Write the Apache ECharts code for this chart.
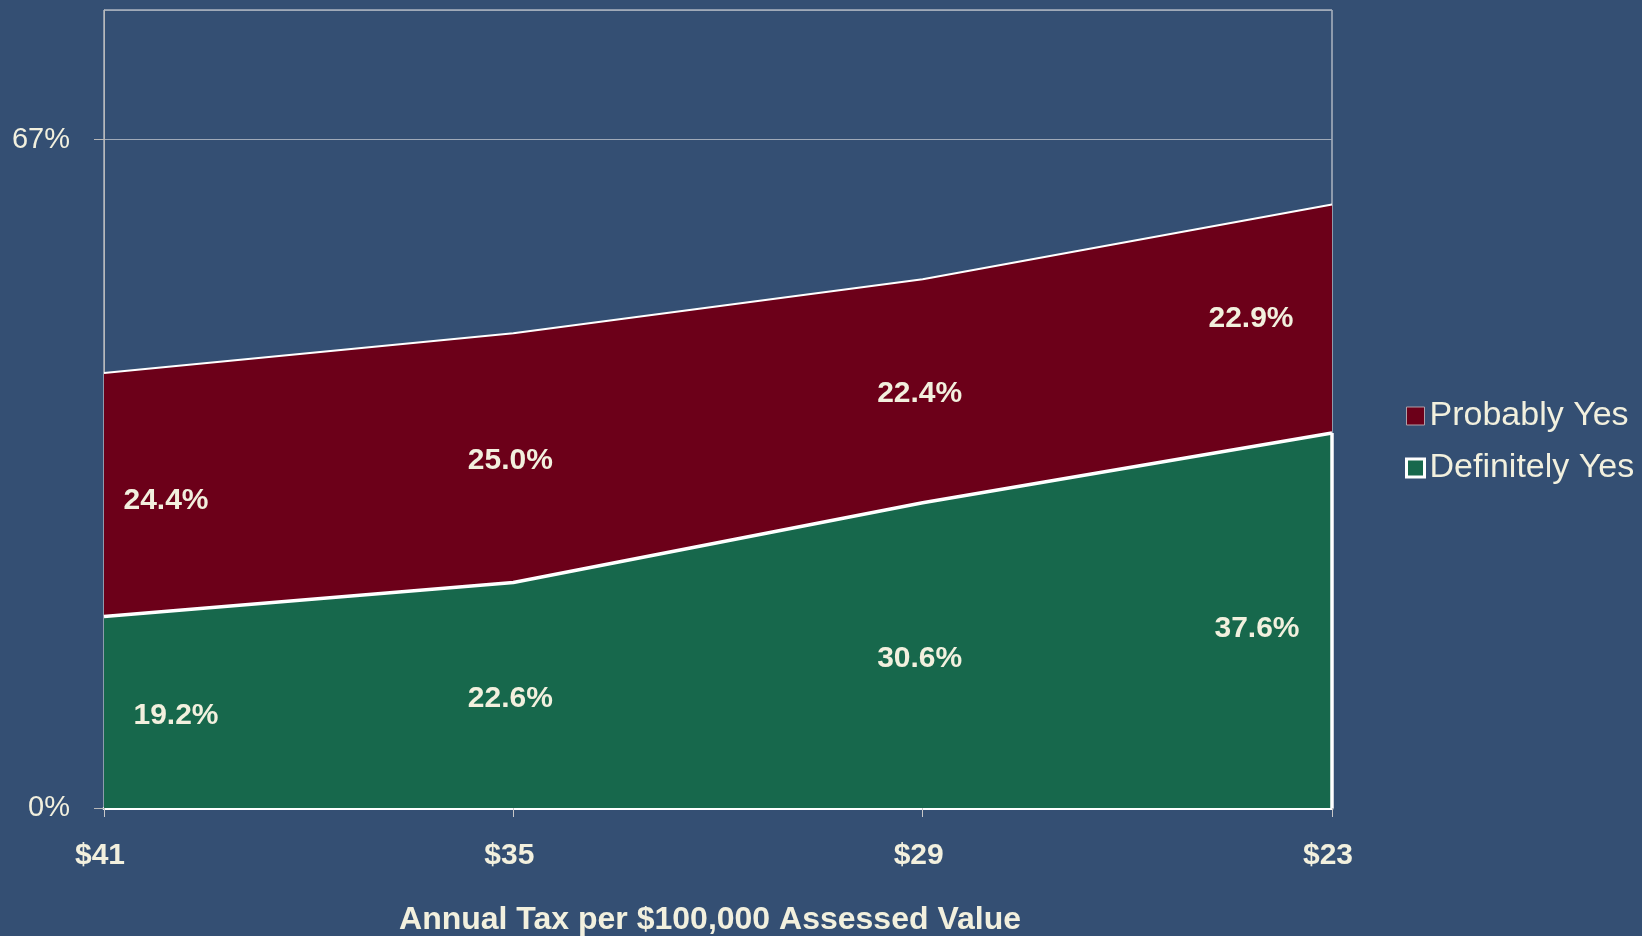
<!DOCTYPE html>
<html>
<head>
<meta charset="utf-8">
<script src="https://cdn.jsdelivr.net/npm/echarts@6/dist/echarts.min.js"></script>
<style>
  html, body { margin: 0; padding: 0; background: #344f73; }
  #main { width: 1642px; height: 936px; }
</style>
</head>
<body>
<div id="main"></div>
<script>
var categories = ['$41', '$35', '$29', '$23'];
var definitelyYes = [19.2, 22.6, 30.6, 37.6];
var probablyYes = [24.4, 25.0, 22.4, 22.9];
var yTicks = [0, 67];

var bg = '#344f73';
var red = '#6c0019';
var green = '#17684c';
var textColor = '#f2f0de';
var font = '"Liberation Sans", Arial, sans-serif';

// label offsets so the end labels sit inside the plot
function labelOffset(isGreen, i) {
    var last = categories.length - 1;
    if (i === 0) return isGreen ? [72, 3] : [62, 6];
    if (i === last) return isGreen ? [-75, 8] : [-81, 0];
    return [-3, 3];
}

// label points at the middle of each band
var greenLabels = [];
var redLabels = [];
for (var i = 0; i < categories.length; i++) {
    greenLabels.push({
        value: [i, definitelyYes[i] / 2, definitelyYes[i]],
        label: { offset: labelOffset(true, i) }
    });
    redLabels.push({
        value: [i, definitelyYes[i] + probablyYes[i] / 2, probablyYes[i]],
        label: { offset: labelOffset(false, i) }
    });
}

var bandLabel = {
    show: true,
    position: 'inside',
    color: textColor,
    opacity: 1,
    textBorderWidth: 0,
    fontFamily: font,
    fontWeight: 'bold',
    fontSize: 30,
    formatter: function (p) { return p.value[2].toFixed(1) + '%'; }
};

var option = {
    backgroundColor: bg,
    animation: false,
    grid: {
        left: 104, right: 310, top: 10, bottom: 128,
        outerBoundsMode: 'none',
        containLabel: false,
        show: true, borderColor: '#e8e8e8', borderWidth: 1
    },
    legend: {
        left: 1400,
        top: 394,
        orient: 'vertical',
        icon: 'rect',
        itemWidth: 18,
        itemHeight: 18,
        itemGap: 18,
        textStyle: { color: textColor, fontFamily: font, fontSize: 34 },
        data: [
            { name: 'Probably Yes', itemStyle: { borderColor: '#b0a0a8', borderWidth: 1 } },
            { name: 'Definitely Yes', itemStyle: { borderColor: '#ffffff', borderWidth: 3 } }
        ]
    },
    xAxis: {
        type: 'category',
        data: categories,
        boundaryGap: false,
        name: 'Annual Tax per $100,000 Assessed Value',
        nameLocation: 'middle',
        nameGap: 96,
        nameTextStyle: { color: textColor, fontFamily: font, fontWeight: 'bold', fontSize: 32, padding: [0, 16, 0, 0] },
        axisLine: { lineStyle: { color: '#ffffff', width: 3 } },
        axisTick: { length: 9, lineStyle: { color: '#c8c8c8', width: 1 } },
        axisLabel: { color: textColor, fontFamily: font, fontWeight: 'bold', fontSize: 30, margin: 33, padding: [0, 8, 0, 0] }
    },
    yAxis: {
        type: 'value',
        min: yTicks[0],
        max: 80,
        interval: yTicks[1],
        axisLine: { show: true, lineStyle: { color: '#b8b8b8', width: 1 } },
        axisTick: { show: true, length: 10, lineStyle: { color: '#b8b8b8' } },
        axisLabel: {
            color: textColor, fontFamily: font, fontSize: 29, margin: 34,
            showMaxLabel: false,
            formatter: function (v) { return yTicks.indexOf(v) >= 0 ? v + '%' : ''; }
        },
        splitLine: { show: true, lineStyle: { color: '#a0aab8', width: 1 } }
    },
    series: [
        {
            name: 'Definitely Yes',
            type: 'line',
            stack: 'total',
            data: definitelyYes,
            color: green,
            showSymbol: false,
            lineStyle: { color: '#ffffff', width: 3.5 },
            areaStyle: { color: green, opacity: 1 },
            markLine: {
                silent: true,
                symbol: 'none',
                label: { show: false },
                lineStyle: { color: '#ffffff', width: 3.5, type: 'solid' },
                data: [[
                    { coord: [categories.length - 1, 0] },
                    { coord: [categories.length - 1, definitelyYes[categories.length - 1]] }
                ]]
            },
            z: 3
        },
        {
            name: 'Probably Yes',
            type: 'line',
            stack: 'total',
            data: probablyYes,
            color: red,
            showSymbol: false,
            lineStyle: { color: '#ffffff', width: 2 },
            areaStyle: { color: red, opacity: 1 },
            z: 2
        },
        {
            name: 'greenLabels',
            type: 'scatter',
            symbolSize: 0,
            itemStyle: { opacity: 1 },
            data: greenLabels,
            label: bandLabel,
            silent: true,
            z: 5
        },
        {
            name: 'redLabels',
            type: 'scatter',
            symbolSize: 0,
            itemStyle: { opacity: 1 },
            data: redLabels,
            label: bandLabel,
            silent: true,
            z: 5
        }
    ]
};

var chart = echarts.init(document.getElementById('main'));
chart.setOption(option);
</script>
</body>
</html>
